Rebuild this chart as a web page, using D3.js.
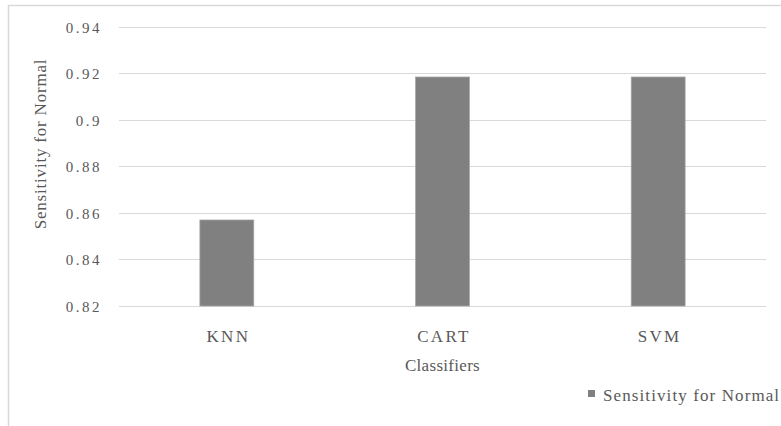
<!DOCTYPE html>
<html>
<head>
<meta charset="utf-8">
<script src="https://cdn.jsdelivr.net/npm/d3@7"></script>
<style>
  html, body { margin: 0; padding: 0; background: #fff; }
  svg { display: block; }
</style>
</head>
<body>
<svg id="chart" width="781" height="426"></svg>
<script>
// Sensitivity for the "Normal" class per classifier
const categories = ["KNN", "CART", "SVM"];
const sensitivity = [0.857, 0.9185, 0.9185];
const yTicks = [0.82, 0.84, 0.86, 0.88, 0.9, 0.92, 0.94];
const seriesName = "Sensitivity for Normal";
const xTitle = "Classifiers";

const FONT = '"Liberation Serif"';
const INK = "#595959";

const svg = d3.select("#chart");
const W = 781, H = 426;

// Chart area frame
svg.append("rect")
  .attr("x", 8.5).attr("y", 5.5)
  .attr("width", W + 10).attr("height", H + 10)
  .attr("fill", "#fff").attr("stroke", "#d9d9d9").attr("stroke-width", 1.5);

const plot = { left: 119, right: 766, top: 27, bottom: 306 };

const x = d3.scaleBand()
  .domain(categories)
  .range([plot.left, plot.right])
  .paddingInner(0.75).paddingOuter(0.375);

const y = d3.scaleLinear()
  .domain([0.82, 0.94])
  .range([plot.bottom, plot.top]);

// Horizontal gridlines
svg.append("g")
  .selectAll("line")
  .data(yTicks)
  .join("line")
  .attr("x1", plot.left).attr("x2", plot.right)
  .attr("y1", d => Math.round(y(d)) + 0.5).attr("y2", d => Math.round(y(d)) + 0.5)
  .attr("stroke", "#d9d9d9").attr("stroke-width", 1);

function styleText(sel, size, spacing) {
  sel.style("font-family", FONT)
    .style("font-size", size + "px")
    .style("letter-spacing", spacing + "px")
    .style("fill", INK);
}

// Y axis tick labels
const yAxis = d3.axisLeft(y).tickValues(yTicks).tickSize(0).tickPadding(0)
  .tickFormat(d3.format("~g"));
const yg = svg.append("g").attr("transform", `translate(102,0)`).call(yAxis);
yg.attr("font-family", null);
yg.select(".domain").remove();
yg.selectAll("text").call(styleText, 15, 2.5).attr("dy", "0.34em");

// Bars
svg.append("g")
  .selectAll("rect")
  .data(categories.map((c, i) => ({ c, v: sensitivity[i] })))
  .join("rect")
  .attr("x", d => x(d.c))
  .attr("width", x.bandwidth())
  .attr("y", d => y(d.v))
  .attr("height", d => y(0.82) - y(d.v))
  .attr("fill", "#808080")
  .attr("stroke", "#a6a6a6").attr("stroke-width", 0.75);

// Category axis labels
const xAxis = d3.axisBottom(x).tickSize(0).tickPadding(0);
const xg = svg.append("g").attr("transform", `translate(1.5,${plot.bottom})`).call(xAxis);
xg.attr("font-family", null);
xg.select(".domain").remove();
xg.selectAll("text").call(styleText, 17, 2.3).attr("y", 36).attr("dy", null);

// X axis title
svg.append("text")
  .attr("x", (plot.left + plot.right) / 2)
  .attr("y", 371)
  .attr("text-anchor", "middle")
  .call(styleText, 17, 0.3)
  .text(xTitle);

// Y axis title
svg.append("text")
  .attr("transform", `translate(46,144) rotate(-90)`)
  .attr("text-anchor", "middle")
  .call(styleText, 17, 0.8)
  .text(seriesName);

// Legend
const legend = svg.append("g").attr("transform", "translate(588,390)");
legend.append("rect")
  .attr("width", 7).attr("height", 7)
  .attr("fill", "#808080");
legend.append("text")
  .attr("x", 15).attr("y", 11)
  .call(styleText, 17, 1.1)
  .text(seriesName);
</script>
</body>
</html>
